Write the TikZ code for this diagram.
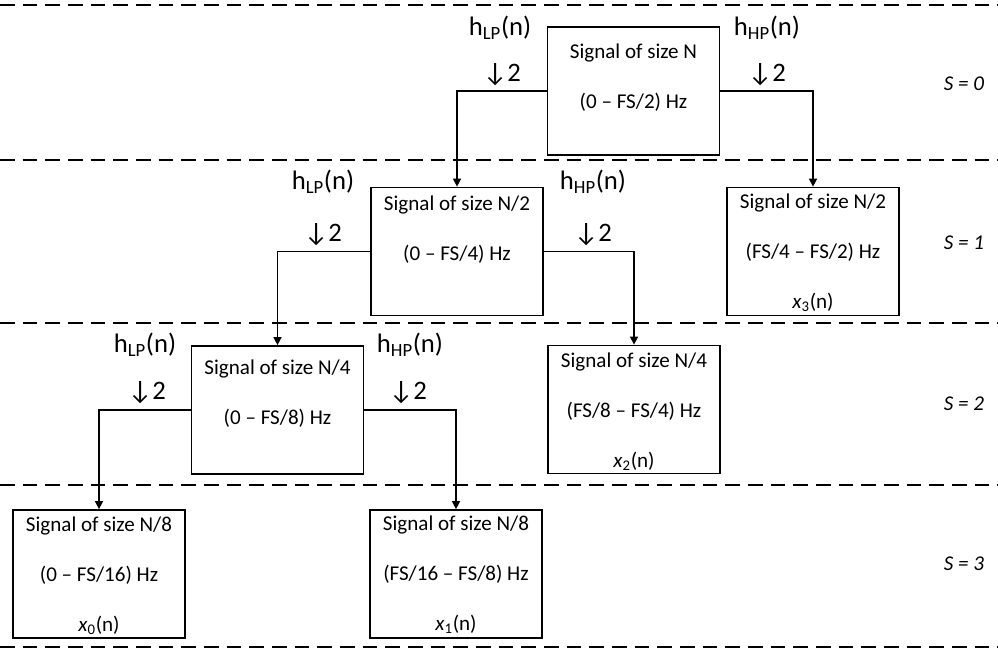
\documentclass[tikz,border=0pt]{standalone}
\usepackage{fontspec}
\setmainfont{Carlito}
\usetikzlibrary{arrows.meta}
\tikzset{
  sigbox/.style  = {rectangle, draw, line width=1.3pt, minimum width=129pt,
                    minimum height=96pt, inner sep=0pt},
  boxtxt/.style  = {align=center, inner sep=0pt, font=\fontsize{15.8}{37.5}\selectfont},
  filt/.style    = {inner sep=0pt, font=\fontsize{20}{23}\selectfont},
  lvltxt/.style  = {inner sep=0pt, font=\fontsize{15.8}{19}\selectfont\itshape},
  lvlline/.style = {line width=1pt, dash pattern=on 11pt off 6pt},
  flow/.style    = {-{Triangle[length=6pt,width=6pt]}, line width=1.1pt},
}

\begin{document}
\begin{tikzpicture}[x=0.75pt, y=-0.75pt]
\useasboundingbox (0,0) rectangle (998,650);

% scale boundaries
\foreach \y in {5,160,323,485,647}
  \draw[lvlline] (0,\y) -- (998,\y);

% boxes
\node[sigbox] (b0)  at (633.5,91)  {};
\node[sigbox] (b1l) at (457,251.5) {};
\node[sigbox] (b1r) at (813,251.5) {};
\node[sigbox] (b2l) at (277.5,410) {};
\node[sigbox] (b2r) at (634,409.5) {};
\node[sigbox] (b3l) at (99,574)    {};
\node[sigbox] (b3r) at (456,574)   {};

% box texts
\node[boxtxt] (t0)  at (633.5,78)  {Signal of size N\\(0 – FS/2) Hz};
\node[boxtxt] (t1l) at (457,230)   {Signal of size N/2\\(0 – FS/4) Hz};
\node[boxtxt] (t1r) at (813,252.5) {Signal of size N/2\\(FS/4 – FS/2) Hz\\\textit{x}\textsubscript{3}(n)};
\node[boxtxt] (t2l) at (277.5,393.5) {Signal of size N/4\\(0 – FS/8) Hz};
\node[boxtxt] (t2r) at (634,411.5) {Signal of size N/4\\(FS/8 – FS/4) Hz\\\textit{x}\textsubscript{2}(n)};
\node[boxtxt] (t3l) at (99,576)    {Signal of size N/8\\(0 – FS/16) Hz\\\textit{x}\textsubscript{0}(n)};
\node[boxtxt] (t3r) at (456,575)   {Signal of size N/8\\(FS/16 – FS/8) Hz\\\textit{x}\textsubscript{1}(n)};

% filter labels
\node[filt] (h0l) at (500,28)  {h\textsubscript{LP}(n)};
\node[filt] (d0l) at (502,75)  {↓2};
\node[filt] (h0r) at (767,28)  {h\textsubscript{HP}(n)};
\node[filt] (d0r) at (767,75)  {↓2};
\node[filt] (h1l) at (323,182) {h\textsubscript{LP}(n)};
\node[filt] (d1l) at (323,235) {↓2};
\node[filt] (h1r) at (593,182) {h\textsubscript{HP}(n)};
\node[filt] (d1r) at (593,235) {↓2};
\node[filt] (h2l) at (145,345) {h\textsubscript{LP}(n)};
\node[filt] (d2l) at (147,393) {↓2};
\node[filt] (h2r) at (410,345) {h\textsubscript{HP}(n)};
\node[filt] (d2r) at (408,393) {↓2};

% scale labels
\node[lvltxt] (s0) at (964,84)  {S = 0};
\node[lvltxt] (s1) at (964,243) {S = 1};
\node[lvltxt] (s2) at (964,404) {S = 2};
\node[lvltxt] (s3) at (964,564) {S = 3};

% decomposition
\draw[flow] (b0.west)  -| (b1l.north);
\draw[flow] (b0.east)  -| (b1r.north);
\draw[flow] (b1l.west) -| (b2l.north);
\draw[flow] (b1l.east) -| (b2r.north);
\draw[flow] (b2l.west) -| (b3l.north);
\draw[flow] (b2l.east) -| (b3r.north);

\end{tikzpicture}
\end{document}
